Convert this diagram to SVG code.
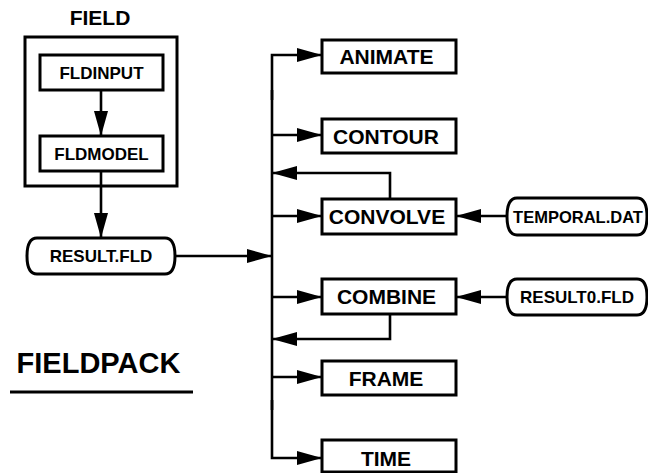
<svg xmlns="http://www.w3.org/2000/svg" width="648" height="473" viewBox="0 0 648 473">
  <defs>
    <marker id="arrow" markerUnits="userSpaceOnUse" markerWidth="26" markerHeight="16" refX="25" refY="7" orient="auto">
      <path d="M0,0 L25,7 L0,14 z" fill="#000"/>
    </marker>
    <style>
      .box { fill: #fff; stroke: #000; stroke-width: 3; }
      .wire { fill: none; stroke: #000; stroke-width: 2.6; stroke-linejoin: miter; }
      .arr { marker-end: url(#arrow); }
      .lbl { font-family: "Liberation Sans", Arial, sans-serif; font-weight: bold; fill: #000; text-anchor: middle; }
      .big { font-size: 21px; }
      .small { font-size: 17px; }
    </style>
  </defs>

  <rect width="648" height="473" fill="#fff"/>

  <!-- FIELD package -->
  <g id="field">
    <text class="lbl big" x="100" y="25">FIELD</text>
    <rect class="box" x="25" y="37" width="152" height="149"/>
  </g>
  <g id="fldinput">
    <rect class="box" x="40" y="55" width="123" height="35"/>
    <text class="lbl small" x="101.5" y="78.5">FLDINPUT</text>
  </g>
  <g id="fldmodel">
    <rect class="box" x="40" y="136" width="123" height="35"/>
    <text class="lbl small" x="101.5" y="159.5">FLDMODEL</text>
  </g>

  <!-- data files -->
  <g id="result-fld">
    <path class="box" d="M37,238 H165 C173,238 175,246 175,256 C175,266 173,274 165,274 H37 C29,274 27,266 27,256 C27,246 29,238 37,238 z"/>
    <text class="lbl small" x="101" y="262">RESULT.FLD</text>
  </g>
  <g id="temporal-dat">
    <path class="box" d="M517,198 H637 C645,198 647,206 647,216.5 C647,227 645,235 637,235 H517 C509,235 507,227 507,216.5 C507,206 509,198 517,198 z"/>
    <text class="lbl" x="578" y="222.5" font-size="16.5">TEMPORAL.DAT</text>
  </g>
  <g id="result0-fld">
    <path class="box" d="M517,279 H637 C645,279 647,287 647,297 C647,307 645,315 637,315 H517 C509,315 507,307 507,297 C507,287 509,279 517,279 z"/>
    <text class="lbl small" x="577" y="303">RESULT0.FLD</text>
  </g>

  <!-- tools -->
  <g id="animate">
    <rect class="box" x="322" y="40" width="134" height="33"/>
    <text class="lbl big" x="386.5" y="64">ANIMATE</text>
  </g>
  <g id="contour">
    <rect class="box" x="322" y="119" width="134" height="34"/>
    <text class="lbl big" x="386" y="143.5">CONTOUR</text>
  </g>
  <g id="convolve">
    <rect class="box" x="322" y="199" width="134" height="35"/>
    <text class="lbl big" x="387" y="224">CONVOLVE</text>
  </g>
  <g id="combine">
    <rect class="box" x="322" y="279" width="134" height="35"/>
    <text class="lbl big" x="386.5" y="304">COMBINE</text>
  </g>
  <g id="frame">
    <rect class="box" x="322" y="361" width="134" height="34"/>
    <text class="lbl big" x="386" y="385.5">FRAME</text>
  </g>
  <g id="time">
    <rect class="box" x="322" y="440" width="134" height="32"/>
    <text class="lbl big" x="386" y="466">TIME</text>
  </g>

  <!-- title -->
  <g id="fieldpack">
    <text class="lbl" x="98.5" y="373" font-size="29">FIELDPACK</text>
    <rect x="10" y="390.5" width="183" height="3" fill="#000"/>
  </g>

  <!-- connectors -->
  <g id="connectors">
    <line class="wire arr" x1="101" y1="90" x2="101" y2="136"/>
    <line class="wire arr" x1="101" y1="171" x2="101" y2="238"/>
    <line class="wire arr" x1="175" y1="256" x2="272" y2="256"/>

    <!-- distribution trunk -->
    <path class="wire arr" d="M272,100 V55 H322"/>
    <path class="wire arr" d="M272,400 V458 H322"/>
    <line class="wire" x1="272" y1="90" x2="272" y2="410"/>
    <line class="wire arr" x1="272" y1="135" x2="322" y2="135"/>
    <line class="wire arr" x1="272" y1="216" x2="322" y2="216"/>
    <line class="wire arr" x1="272" y1="297" x2="322" y2="297"/>
    <line class="wire arr" x1="272" y1="377" x2="322" y2="377"/>

    <!-- feedback loops -->
    <path class="wire arr" d="M390,199 V173 H272"/>
    <path class="wire arr" d="M390,314 V339 H272"/>

    <!-- inputs -->
    <line class="wire arr" x1="507" y1="216" x2="456" y2="216"/>
    <line class="wire arr" x1="507" y1="297" x2="456" y2="297"/>
  </g>
</svg>
